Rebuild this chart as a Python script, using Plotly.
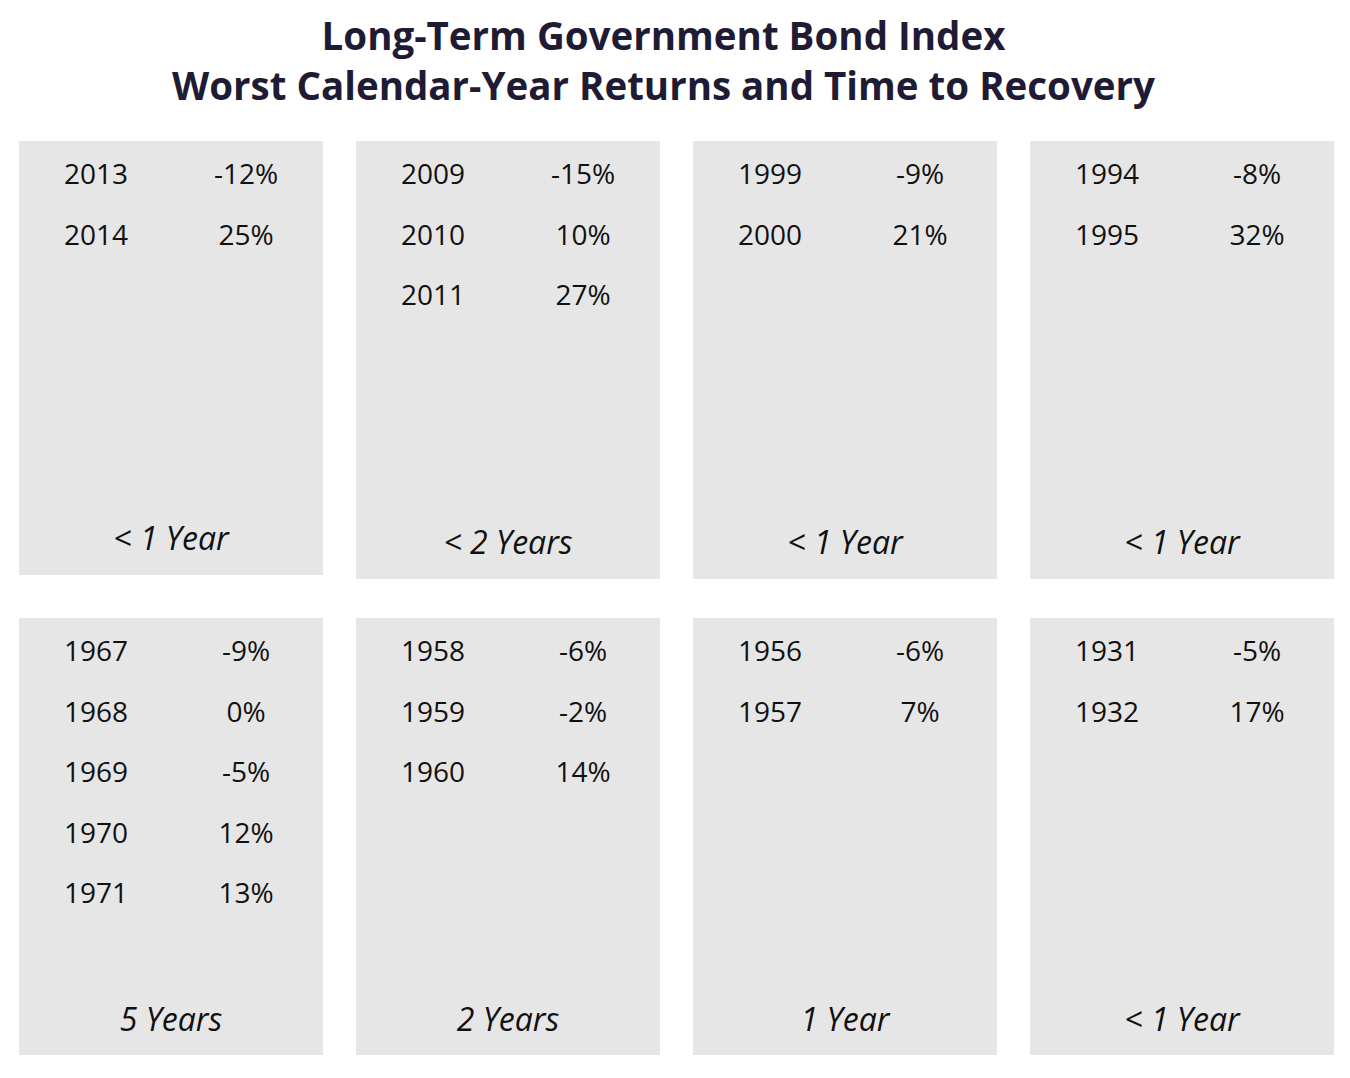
import plotly.graph_objects as go

# ── Datos ───────────────────────────────────────────────────────────────────
titulo = ['Long-Term Government Bond Index',
          'Worst Calendar-Year Returns and Time to Recovery']

years = [
    ['2013', '2014'],
    ['2009', '2010', '2011'],
    ['1999', '2000'],
    ['1994', '1995'],
    ['1967', '1968', '1969', '1970', '1971'],
    ['1958', '1959', '1960'],
    ['1956', '1957'],
    ['1931', '1932'],
]
returns = [
    ['-12%', '25%'],
    ['-15%', '10%', '27%'],
    ['-9%', '21%'],
    ['-8%', '32%'],
    ['-9%', '0%', '-5%', '12%', '13%'],
    ['-6%', '-2%', '14%'],
    ['-6%', '7%'],
    ['-5%', '17%'],
]
recovery = ['< 1 Year', '< 2 Years', '< 1 Year', '< 1 Year',
            '5 Years', '2 Years', '1 Year', '< 1 Year']

# ── Geometría (px de la página) ─────────────────────────────────────────────
W, H = 1350, 1078
OFF = 8   # margen por defecto del <body>
col_x0 = [19, 356, 693, 1030]
panel_w = 304
row_top = [141, 618]
row_bot = [[575, 579, 579, 579], [1055, 1055, 1055, 1055]]
footer_y = [[542, 546, 546, 546], [1023, 1023, 1023, 1023]]
line_step = 60.5
first_line = 177 - 141   # offset de la primera fila dentro del panel

FONT = 'Open Sans'
GRAY = '#e6e6e6'
INK = '#111111'
NAVY = '#1f1b35'

fig = go.Figure()
shapes = []

xs_y, ys_y, tx_y = [], [], []
xs_r, ys_r, tx_r = [], [], []
xs_f, ys_f, tx_f = [], [], []

for k in range(8):
    r, c = divmod(k, 4)
    x0 = col_x0[c]
    y0 = row_top[r]
    shapes.append(dict(type='rect', xref='x', yref='y', layer='below',
                       x0=x0, x1=x0 + panel_w, y0=y0, y1=row_bot[r][c],
                       fillcolor=GRAY, line=dict(width=0)))
    for i, (yr, rt) in enumerate(zip(years[k], returns[k])):
        yy = y0 + first_line + i * line_step
        xs_y.append(x0 + 77); ys_y.append(yy); tx_y.append(yr)
        xs_r.append(x0 + 227); ys_r.append(yy); tx_r.append(rt)
    xs_f.append(x0 + panel_w / 2); ys_f.append(footer_y[r][c])
    tx_f.append(f'<i>{recovery[k]}</i>')

for xs, ys, tx, size in [(xs_y, ys_y, tx_y, 28), (xs_r, ys_r, tx_r, 28),
                         (xs_f, ys_f, tx_f, 32)]:
    fig.add_trace(go.Scatter(
        x=xs, y=ys, text=tx, mode='text', textposition='middle center',
        textfont=dict(family=FONT, size=size, color=INK),
        hoverinfo='skip', showlegend=False,
    ))

fig.add_annotation(
    x=663, y=60, xref='x', yref='y', showarrow=False, yanchor='middle',
    text='<b>' + '<br>'.join(titulo) + '</b>',
    font=dict(family=FONT, size=38.5, color=NAVY), align='center',
)

fig.update_layout(
    width=W, height=H,
    margin=dict(l=0, r=0, t=0, b=0),
    paper_bgcolor='white', plot_bgcolor='white',
    shapes=shapes,
    xaxis=dict(range=[OFF, W + OFF], visible=False, fixedrange=True),
    yaxis=dict(range=[H + OFF, OFF], visible=False, fixedrange=True),
)

fig.write_html('out.html')
